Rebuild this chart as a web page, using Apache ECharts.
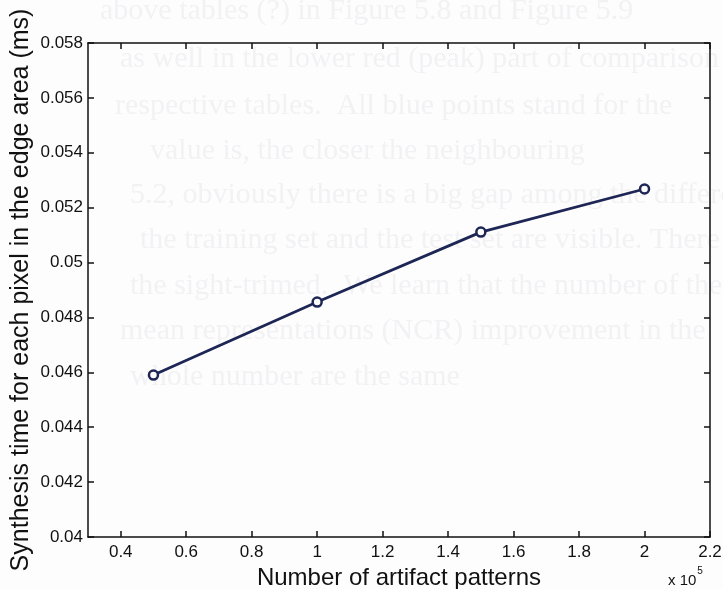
<!DOCTYPE html>
<html>
<head>
<meta charset="utf-8">
<script src="https://cdn.jsdelivr.net/npm/echarts@6/dist/echarts.min.js"></script>
<style>
html,body{margin:0;padding:0;background:#fdfdfd;}
#c{width:723px;height:589px;}
</style>
</head>
<body>
<div id="c"></div>
<script>
// ---- data ----
var patterns = [50000, 100000, 150000, 200000];
var synthTime = [0.0459, 0.04856, 0.05111, 0.05268];
var xTicks = [40000, 60000, 80000, 100000, 120000, 140000, 160000, 180000, 200000, 220000];
var yTicks = [0.04, 0.042, 0.044, 0.046, 0.048, 0.05, 0.052, 0.054, 0.056, 0.058];
// faint bleed-through text of the scanned page
var pageLines = [
  "above tables (?) in Figure 5.8 and Figure 5.9",
  "as well in the lower red (peak) part of comparison",
  "respective tables.  All blue points stand for the",
  "value is, the closer the neighbouring",
  "5.2, obviously there is a big gap among the differe",
  "the training set and the test set are visible. There",
  "the sight-trimed.  We learn that the number of the",
  "mean representations (NCR) improvement in the",
  "whole number are the same"
];
var pageLineX = [100, 120, 115, 150, 130, 140, 130, 120, 130];
var pageLineY = [12, 60, 107, 152, 196, 241, 287, 332, 378];

var chart = echarts.init(document.getElementById('c'), null, {renderer: 'canvas'});
var font = '"Liberation Sans", Arial, Helvetica, sans-serif';
var ink = '#111';
var lineCol = '#1d2654';

var bg = pageLines.map(function (t, i) {
  return {
    type: 'text', z: -10, left: pageLineX[i], top: pageLineY[i] - 16,
    style: {text: t, font: '30px "Liberation Serif", serif', fill: '#f2f2f4'}
  };
});

var option = {
  backgroundColor: '#fdfdfd',
  animation: false,
  grid: {left: 88, right: 13, top: 43, bottom: 52, containLabel: false, outerBoundsMode: 'none'},
  xAxis: [{
    type: 'value', min: 30000, max: 220000, position: 'bottom',
    name: 'Number of artifact patterns', nameLocation: 'middle', nameGap: 29,
    nameTextStyle: {fontFamily: font, fontSize: 24, color: ink},
    axisLine: {show: true, onZero: false, lineStyle: {color: ink, width: 1.5}},
    axisTick: {show: true, inside: true, length: 6, customValues: xTicks, lineStyle: {color: ink, width: 1.5}},
    axisLabel: {show: true, customValues: xTicks, fontFamily: font, fontSize: 17, color: ink, margin: 7,
      formatter: function (v) { return String(parseFloat((v / 1e5).toFixed(2))); }},
    splitLine: {show: false}
  }, {
    type: 'value', min: 30000, max: 220000, position: 'top',
    axisLine: {show: true, onZero: false, lineStyle: {color: ink, width: 1.5}},
    axisTick: {show: true, inside: true, length: 6, customValues: xTicks, lineStyle: {color: ink, width: 1.5}},
    axisLabel: {show: false}, splitLine: {show: false}
  }],
  yAxis: [{
    type: 'value', min: 0.04, max: 0.058, interval: 0.002, position: 'left',
    name: 'Synthesis time for each pixel in the edge area (ms)', nameLocation: 'middle', nameGap: 54,
    nameMoveOverlap: false,
    nameTextStyle: {fontFamily: font, fontSize: 25, color: ink},
    axisLine: {show: true, onZero: false, lineStyle: {color: ink, width: 1.5}},
    axisTick: {show: true, inside: true, length: 6, lineStyle: {color: ink, width: 1.5}},
    axisLabel: {fontFamily: font, fontSize: 17, color: ink, margin: 5,
      formatter: function (v) { return String(parseFloat(v.toFixed(3))); }},
    splitLine: {show: false}
  }, {
    type: 'value', min: 0.04, max: 0.058, interval: 0.002, position: 'right',
    axisLine: {show: true, onZero: false, lineStyle: {color: ink, width: 1.5}},
    axisTick: {show: true, inside: true, length: 6, lineStyle: {color: ink, width: 1.5}},
    axisLabel: {show: false}, splitLine: {show: false}
  }],
  series: [{
    type: 'line',
    data: patterns.map(function (p, i) { return [p, synthTime[i]]; }),
    symbol: 'circle', symbolSize: 9,
    lineStyle: {color: lineCol, width: 2.8},
    itemStyle: {color: '#fdfdfd', borderColor: lineCol, borderWidth: 2.5}
  }],
  graphic: bg.concat([{
    type: 'text', left: 668, top: 566,
    style: {
      text: '{a|x 10}{b|5}',
      rich: {
        a: {fontFamily: font, fontSize: 15, fill: ink, padding: [7, 0, 0, 0]},
        b: {fontFamily: font, fontSize: 10, fill: ink, verticalAlign: 'top', padding: [0, 0, 0, 1]}
      }
    }
  }])
};
chart.setOption(option);
</script>
</body>
</html>
